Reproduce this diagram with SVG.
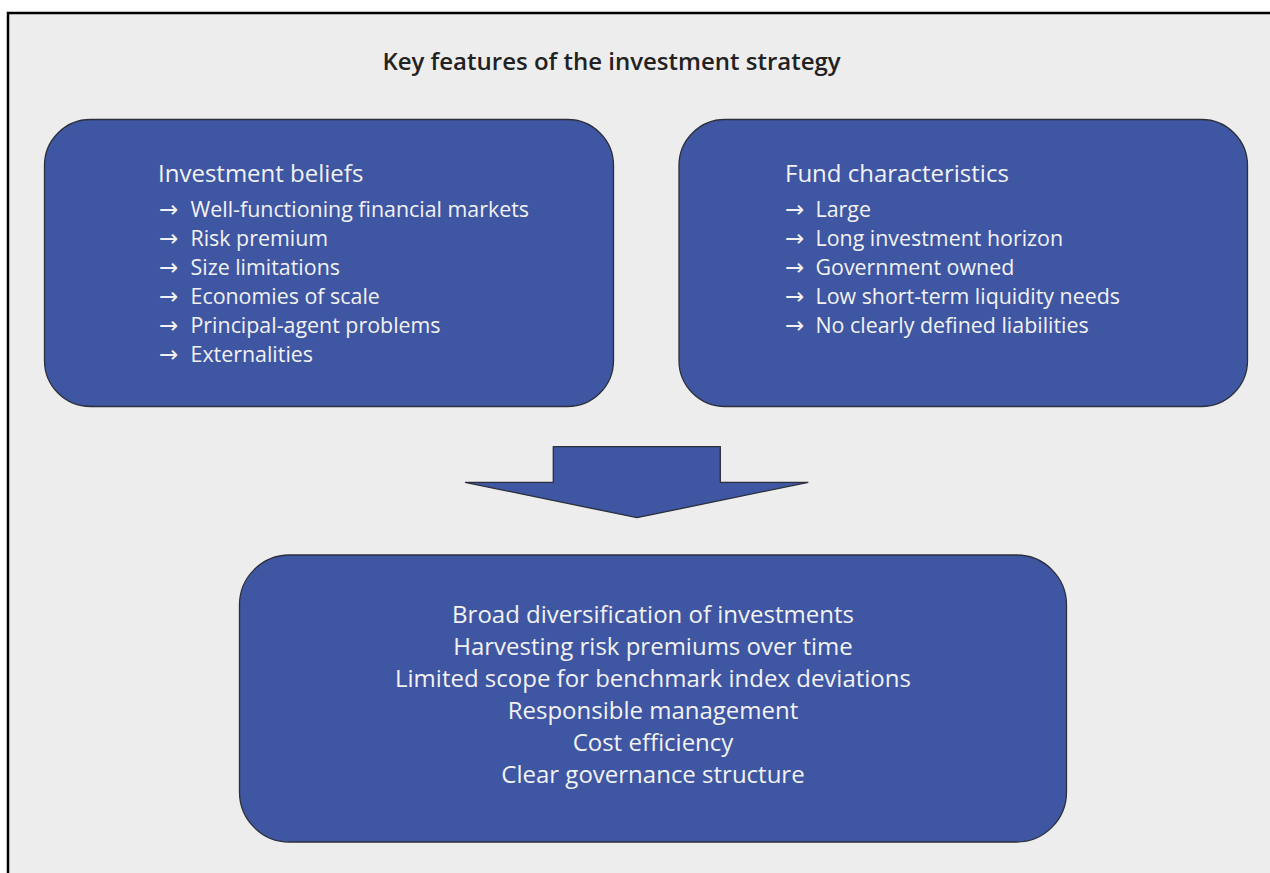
<svg xmlns="http://www.w3.org/2000/svg" width="1270" height="873" viewBox="0 0 1270 873">
<style>
.box{fill:#3f56a3;stroke:#2b2f3a;stroke-width:1.3}
.t{font-family:"Open Sans","Liberation Sans",sans-serif;fill:#f2f2f2}
.h{font-size:24px}
.i{font-size:21.4px}
.a{font-family:"Noto Sans","DejaVu Sans",sans-serif;font-size:23px}
.c{font-size:24px;text-anchor:middle}
.title{font-family:"Open Sans","Liberation Sans",sans-serif;font-size:24px;font-weight:600;fill:#222;text-anchor:middle}
</style>
<rect x="0" y="0" width="1270" height="873" fill="#ffffff"/>
<rect x="8" y="13" width="1280" height="880" fill="#ededed" stroke="#000" stroke-width="2.5"/>
<text class="title" x="611.5" y="69.5">Key features of the investment strategy</text>
<g id="beliefs">
<rect class="box" x="44.5" y="119.5" width="569" height="287" rx="46" ry="46"/>
<text class="t h" x="158" y="182">Investment beliefs</text>
<g class="t i">
<text class="a" x="159" y="217">→</text><text x="190.5" y="217">Well-functioning financial markets</text>
<text class="a" x="159" y="246">→</text><text x="190.5" y="246">Risk premium</text>
<text class="a" x="159" y="275">→</text><text x="190.5" y="275">Size limitations</text>
<text class="a" x="159" y="304">→</text><text x="190.5" y="304">Economies of scale</text>
<text class="a" x="159" y="333">→</text><text x="190.5" y="333">Principal-agent problems</text>
<text class="a" x="159" y="362">→</text><text x="190.5" y="362">Externalities</text>
</g>
</g>
<g id="fund">
<rect class="box" x="679" y="119.5" width="568.5" height="287" rx="46" ry="46"/>
<text class="t h" x="785" y="182">Fund characteristics</text>
<g class="t i">
<text class="a" x="785" y="217">→</text><text x="815.5" y="217">Large</text>
<text class="a" x="785" y="246">→</text><text x="815.5" y="246">Long investment horizon</text>
<text class="a" x="785" y="275">→</text><text x="815.5" y="275">Government owned</text>
<text class="a" x="785" y="304">→</text><text x="815.5" y="304">Low short-term liquidity needs</text>
<text class="a" x="785" y="333">→</text><text x="815.5" y="333">No clearly defined liabilities</text>
</g>
</g>
<g id="connectors">
<polygon class="box" points="553.3,446.7 720.3,446.7 720.3,482.3 808.3,482.3 637,517.7 465,482.3 553.3,482.3"/>
</g>
<g id="strategy">
<rect class="box" x="239.5" y="555" width="827" height="287" rx="50" ry="50"/>
<g class="t c">
<text x="653" y="622.5">Broad diversification of investments</text>
<text x="653" y="654.5">Harvesting risk premiums over time</text>
<text x="653" y="686.5">Limited scope for benchmark index deviations</text>
<text x="653" y="718.5">Responsible management</text>
<text x="653" y="750.5">Cost efficiency</text>
<text x="653" y="782.5">Clear governance structure</text>
</g>
</g>
</svg>
